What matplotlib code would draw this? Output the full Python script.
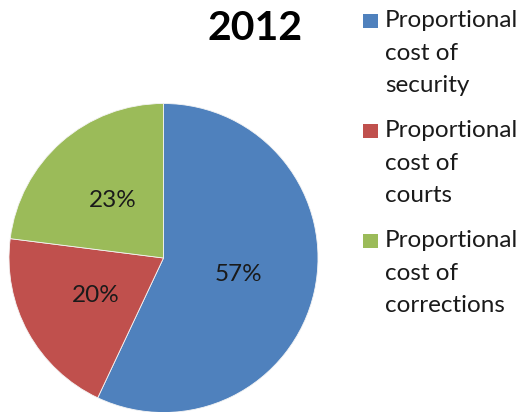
import matplotlib
matplotlib.use("Agg")
import matplotlib.pyplot as plt
from matplotlib.patches import Rectangle

plt.rcParams['font.family'] = ['Lato', 'DejaVu Sans']

# data
title = "2012"
labels = ["Proportional\ncost of\nsecurity",
          "Proportional\ncost of\ncourts",
          "Proportional\ncost of\ncorrections"]
shares = [57, 20, 23]
colors = ["#4F81BD", "#C0504D", "#9BBB59"]

W, H = 525, 412
fig = plt.figure(figsize=(W / 100, H / 100), dpi=100)

# pie axes: centre ~ (163.5, 258) px, radius ~154.5 px
cx, cy, r = 163.5, 258, 154.5
ax = fig.add_axes([(cx - r) / W, (H - cy - r) / H, 2 * r / W, 2 * r / H])
wedges, texts, autotexts = ax.pie(
    shares, colors=colors, startangle=90, counterclock=False,
    autopct='%d%%', pctdistance=0.5, radius=1,
    wedgeprops=dict(edgecolor='#f4f4f4', linewidth=0.6),
    textprops=dict(fontsize=17.5, color='#1a1a1a'))
ax.set_xlim(-1, 1)
ax.set_ylim(-1, 1)
ax.set_aspect('equal')
ax.axis('off')

fig.text(255 / W, 1 - 28 / H, title, ha='center', va='center',
         fontsize=29.5, fontweight='bold', color='black')

# legend, drawn by hand so the marker sits on the first line
entry_top = [10, 120, 230]
for top, lab, col in zip(entry_top, labels, colors):
    fig.patches.append(Rectangle((363 / W, 1 - (top + 18) / H), 15 / W, 14 / H,
                                 transform=fig.transFigure, facecolor=col,
                                 edgecolor='none'))
    fig.text(385 / W, 1 - top / H, lab, ha='left', va='top',
             fontsize=17.5, color='#1a1a1a', linespacing=1.68)

fig.savefig("out.png", dpi=100)
